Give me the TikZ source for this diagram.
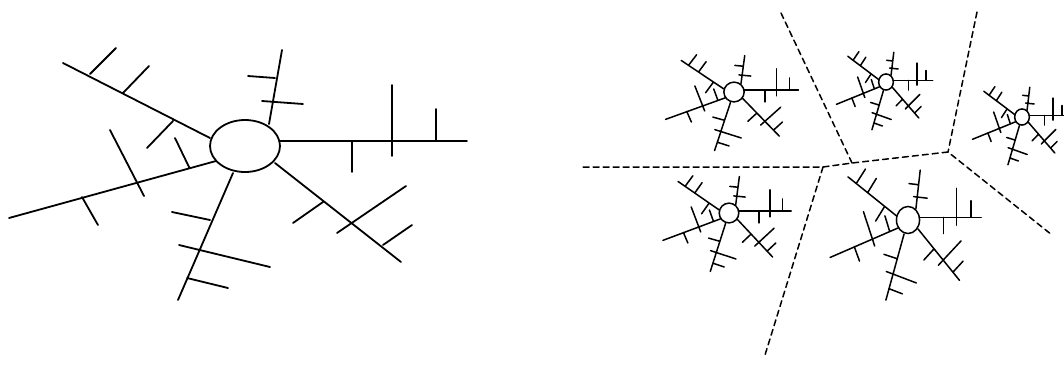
\documentclass[tikz,border=0pt]{standalone}
\usepackage{tikz}

\begin{document}
\begin{tikzpicture}[
    x=1pt, y=-1pt,
    line cap=round,
    limb/.style={line width=1.8pt},
    twig/.style={line width=1.5pt},
    cell/.style={line width=1.5pt, dash pattern=on 6pt off 4pt},
    tree/.pic={
        \draw (0,0) ellipse [x radius=35, y radius=26];
        % upper left arm
        \draw (-35,-8) -- (-182,-83)
              (-155,-72) -- (-129,-98)
              (-122,-53) -- (-96,-80)
              (-72,-25) -- (-98,2);
        % lower left arm
        \draw (-29,15) -- (-236,72)
              (-135,-16) -- (-101,50)
              (-163,51) -- (-147,79)
              (-56,21) -- (-70,-8);
        % upper arm
        \draw (24,-22) -- (37,-96)
              (30,-68) -- (3,-70)
              (17,-45) -- (58,-42);
        % right arm
        \draw (34,-5) -- (222,-5)
              (107,-5) -- (107,26)
              (147,-61) -- (147,10)
              (191,-37) -- (191,-5);
        % lower right arm
        \draw (30,17) -- (156,116)
              (78,56) -- (48,77)
              (92,87) -- (161,40)
              (138,99) -- (167,79);
        % lower arm
        \draw (-12,27) -- (-67,154)
              (-35,74) -- (-73,66)
              (-66,99) -- (25,121)
              (-58,132) -- (-17,142);
    }
]
\useasboundingbox (0,0) rectangle (1064,365);
\clip (0,0) rectangle (1064,365);

% single tree
\pic[limb] at (245,146) {tree};

% cell borders
\coordinate (w)  at (583,167);
\coordinate (a)  at (823,167);
\coordinate (b)  at (852,163);
\coordinate (c)  at (948,152);
\coordinate (s)  at (765,355);
\coordinate (nw) at (781,13);
\coordinate (ne) at (977,12);
\coordinate (se) at (1052,235);

\draw[cell] (w) -- (a) -- (b) -- (c) -- (se);
\draw[cell] (a) -- (s);
\draw[cell] (nw) -- (b);
\draw[cell] (ne) -- (c);

% small trees, one per cell
\pic[twig, xscale=0.29, yscale=0.38] at (734,92) {tree};
\pic[twig, xscale=0.21, yscale=0.31] at (886,82) {tree};
\pic[twig, xscale=0.21, yscale=0.31] at (1022,117) {tree};
\pic[twig, xscale=0.28, yscale=0.38] at (729,213) {tree};
\pic[twig, xscale=0.33, yscale=0.52] at (908,220) {tree};
\end{tikzpicture}
\end{document}
